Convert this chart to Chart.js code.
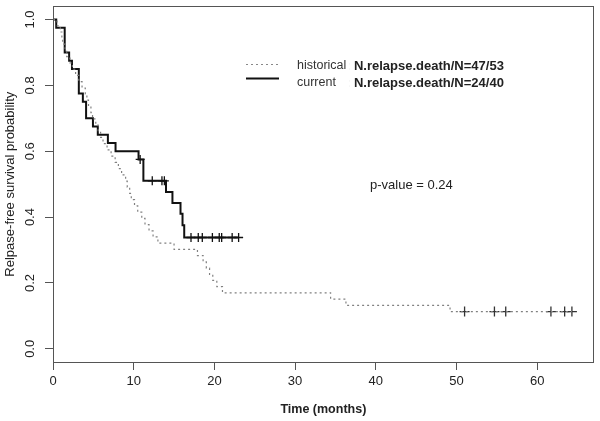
<!DOCTYPE html>
<html>
<head>
<meta charset="utf-8">
<script src="https://cdn.jsdelivr.net/npm/chart.js@4/dist/chart.umd.min.js"></script>
<style>
  html, body { margin: 0; padding: 0; background: #fff; }
  #wrap { width: 600px; height: 421px; }
</style>
</head>
<body>
<div id="wrap"><canvas id="kmChart"></canvas></div>
<script>
// Kaplan-Meier estimates
const currentTimes = [0, 0.4, 1.45, 2.0, 2.35, 3.2, 3.7, 4.1, 4.95, 5.55, 6.8, 7.75, 10.6, 11.2, 14.0, 14.8, 15.8, 16.05, 16.26];
const currentSurv = [1, 0.975, 0.9, 0.875, 0.85, 0.775, 0.75, 0.70, 0.675, 0.65, 0.625, 0.60, 0.575, 0.51, 0.476, 0.443, 0.41, 0.375, 0.338];
const currentCensor = [10.8, 12.3, 13.5, 13.8, 17.1, 18.0, 18.5, 19.75, 20.6, 20.9, 22.2, 23.0];

const histTimes = [0, 0.5, 0.9, 1.1, 1.2, 1.5, 1.7, 2.1, 2.4, 2.8, 3.2, 3.6, 4.0, 4.2, 4.4, 4.7, 4.9, 5.3, 5.6, 5.9,
  6.2, 6.7, 7.2, 7.7, 8.1, 8.5, 9.0, 9.2, 9.5, 9.7, 10.1, 10.5, 11.0, 11.4, 11.9, 12.4, 13.0, 15.0, 17.9, 18.6,
  19.0, 19.4, 19.8, 20.3, 21.0, 34.4, 36.3, 49.2];
const histSurv = [1.000, 0.981, 0.962, 0.943, 0.925, 0.906, 0.887, 0.868, 0.849, 0.830, 0.811, 0.792, 0.774, 0.755,
  0.736, 0.717, 0.698, 0.679, 0.660, 0.642, 0.623, 0.604, 0.585, 0.566, 0.547, 0.528, 0.509, 0.491, 0.472, 0.453,
  0.434, 0.415, 0.396, 0.377, 0.358, 0.340, 0.321, 0.302, 0.283, 0.264, 0.245, 0.226, 0.208, 0.189, 0.170, 0.151,
  0.132, 0.113];
const histCensor = [51.0, 54.7, 56.1, 61.7, 63.4, 64.3];

const groupNames = ['historical', 'current'];
const eventCounts = ['47/53', '24/40'];
const pValueText = 'p-value = 0.24';

const xTicks = [0, 10, 20, 30, 40, 50, 60];
const yTicks = [0, 0.2, 0.4, 0.6, 0.8, 1.0];

const FONT = '"Liberation Sans", Arial, sans-serif';

// value of the step curve at time t
function stepAt(times, surv, t) {
  let s = surv[0];
  for (let i = 0; i < times.length; i++) {
    if (times[i] <= t) s = surv[i];
  }
  return s;
}

// step points, the line runs on to the last censored time
function curvePoints(times, surv, censor) {
  const pts = times.map((t, i) => ({ x: t, y: surv[i] }));
  const last = censor[censor.length - 1];
  if (last > times[times.length - 1]) pts.push({ x: last, y: surv[surv.length - 1] });
  return pts;
}

function censorPoints(times, surv, censor) {
  return censor.map(t => ({ x: t, y: stepAt(times, surv, t) }));
}

const extras = {
  id: 'extras',
  afterDraw(chart) {
    const ctx = chart.ctx;
    const a = chart.chartArea;
    const ys = chart.scales.y;
    ctx.save();

    // box
    ctx.strokeStyle = '#555';
    ctx.lineWidth = 1;
    ctx.strokeRect(Math.round(a.left) + 0.5, Math.round(a.top) + 0.5,
      Math.round(a.right - a.left) - 1, Math.round(a.bottom - a.top));

    // y tick labels, parallel to the axis
    ctx.fillStyle = '#222';
    ctx.font = '13px ' + FONT;
    ctx.textAlign = 'center';
    ctx.textBaseline = 'middle';
    yTicks.forEach(v => {
      ctx.save();
      ctx.translate(30, ys.getPixelForValue(v));
      ctx.rotate(-Math.PI / 2);
      ctx.fillText(v.toFixed(1), 0, 0);
      ctx.restore();
    });

    // second legend (bold counts), partly hidden by the first one
    ctx.textAlign = 'left';
    ctx.font = 'bold 13px ' + FONT;
    ctx.fillText(': N.relapse.death/N=' + eventCounts[0], 346, 66);
    ctx.fillText(': N.relapse.death/N=' + eventCounts[1], 346, 83);
    ctx.fillStyle = '#fff';
    ctx.fillRect(238, 54, 111.5, 40);

    // first legend
    ctx.strokeStyle = '#888';
    ctx.lineWidth = 1.2;
    ctx.setLineDash([2, 3]);
    ctx.beginPath(); ctx.moveTo(246, 64.5); ctx.lineTo(280, 64.5); ctx.stroke();
    ctx.setLineDash([]);
    ctx.strokeStyle = '#111';
    ctx.lineWidth = 2;
    ctx.beginPath(); ctx.moveTo(246, 78.5); ctx.lineTo(279, 78.5); ctx.stroke();
    ctx.fillStyle = '#333';
    ctx.font = '12.5px ' + FONT;
    ctx.fillText(groupNames[0], 297, 66);
    ctx.fillText(groupNames[1], 297, 83);

    // p-value
    ctx.fillStyle = '#222';
    ctx.font = '13px ' + FONT;
    ctx.fillText(pValueText, 370, 185);
    ctx.restore();
  }
};

const ctx = document.getElementById('kmChart').getContext('2d');
const chart = new Chart(ctx, {
  type: 'scatter',
  data: {
    datasets: [
      {
        label: groupNames[0],
        data: curvePoints(histTimes, histSurv, histCensor),
        showLine: true,
        stepped: 'before',
        borderColor: '#808080',
        borderWidth: 1.2,
        borderDash: [2, 3],
        pointRadius: 0
      },
      {
        label: groupNames[1],
        data: curvePoints(currentTimes, currentSurv, currentCensor),
        showLine: true,
        stepped: 'before',
        borderColor: '#111',
        borderWidth: 2,
        pointRadius: 0
      },
      {
        label: 'censor historical',
        data: censorPoints(histTimes, histSurv, histCensor),
        pointStyle: 'cross',
        pointRadius: 5,
        borderColor: '#333',
        borderWidth: 1.3
      },
      {
        label: 'censor current',
        data: censorPoints(currentTimes, currentSurv, currentCensor),
        pointStyle: 'cross',
        pointRadius: 4.5,
        borderColor: '#111',
        borderWidth: 1.3
      }
    ]
  },
  options: {
    responsive: true,
    maintainAspectRatio: false,
    animation: false,
    layout: { padding: { top: 5, right: 5, left: 0, bottom: 0 } },
    plugins: { legend: { display: false }, tooltip: { enabled: false } },
    scales: {
      x: {
        type: 'linear',
        min: 0,
        max: 67,
        afterBuildTicks: s => { s.ticks = xTicks.map(v => ({ value: v })); },
        afterFit: s => { s.height = 59; },
        grid: { drawOnChartArea: false, drawTicks: true, tickLength: 8, color: '#555' },
        border: { display: false },
        ticks: { color: '#222', font: { family: FONT, size: 13 }, padding: 4, maxRotation: 0 },
        title: { display: true, text: 'Time (months)', color: '#222',
          font: { family: FONT, size: 12.5, weight: 'bold' }, padding: { top: 0, bottom: 4 } }
      },
      y: {
        type: 'linear',
        min: -0.04,
        max: 1.04,
        afterBuildTicks: s => { s.ticks = yTicks.map(v => ({ value: v })); },
        afterFit: s => { s.width = 53; },
        grid: { drawOnChartArea: false, drawTicks: true, tickLength: 8, color: '#555' },
        border: { display: false },
        ticks: { display: false },
        title: { display: true, text: 'Relpase-free survival probability', color: '#222',
          font: { family: FONT, size: 13 }, padding: { top: 3, bottom: 0 } }
      }
    }
  },
  plugins: [extras]
});
</script>
</body>
</html>
